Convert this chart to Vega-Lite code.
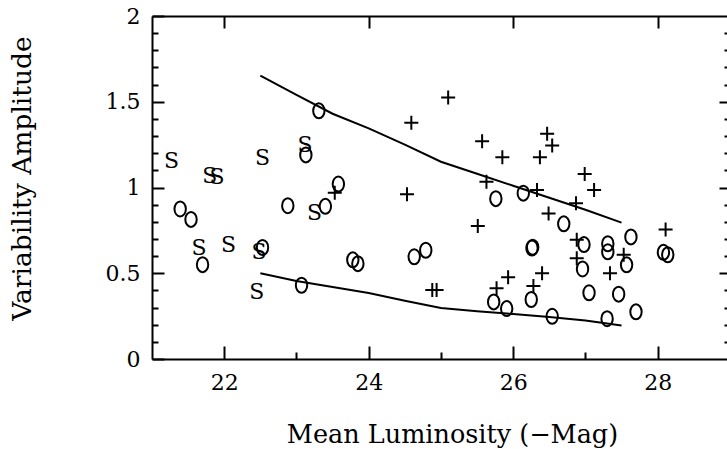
{
  "$schema": "https://vega.github.io/schema/vega-lite/v6.json",
  "width": 575,
  "height": 343,
  "autosize": {"type": "none"},
  "padding": {"left": 152, "top": 16, "right": 0, "bottom": 90},
  "background": "white",
  "config": {"view": {"stroke": null}, "font": "DejaVu Serif",
    "axis": {"grid": false, "domain": false, "domainColor": "black", "domainWidth": 2, "ticks": true, "tickColor": "black", "tickWidth": 2, "tickOpacity": 1, "labelColor": "black", "titleColor": "black", "labelFont": "DejaVu Serif", "titleFont": "DejaVu Serif", "titleFontWeight": "normal", "labelFlush": false}},
  "datasets": {
    "pts": [
      {"kind": "S", "lum": 21.27, "amp": 1.153},
      {"kind": "S", "lum": 21.80, "amp": 1.068},
      {"kind": "S", "lum": 21.90, "amp": 1.062},
      {"kind": "S", "lum": 22.53, "amp": 1.171},
      {"kind": "S", "lum": 23.12, "amp": 1.245},
      {"kind": "S", "lum": 23.25, "amp": 0.853},
      {"kind": "S", "lum": 21.65, "amp": 0.648},
      {"kind": "S", "lum": 22.06, "amp": 0.664},
      {"kind": "S", "lum": 22.48, "amp": 0.622},
      {"kind": "S", "lum": 22.45, "amp": 0.392},
      {"kind": "O", "lum": 23.31, "amp": 1.447},
      {"kind": "O", "lum": 23.13, "amp": 1.19},
      {"kind": "O", "lum": 21.39, "amp": 0.875},
      {"kind": "O", "lum": 21.54, "amp": 0.814},
      {"kind": "O", "lum": 22.88, "amp": 0.894},
      {"kind": "O", "lum": 23.40, "amp": 0.89},
      {"kind": "O", "lum": 23.58, "amp": 1.02},
      {"kind": "O", "lum": 21.70, "amp": 0.55},
      {"kind": "O", "lum": 22.53, "amp": 0.65},
      {"kind": "O", "lum": 23.07, "amp": 0.43},
      {"kind": "O", "lum": 23.78, "amp": 0.578},
      {"kind": "O", "lum": 23.85, "amp": 0.556},
      {"kind": "O", "lum": 24.63, "amp": 0.596},
      {"kind": "O", "lum": 24.79, "amp": 0.634},
      {"kind": "O", "lum": 25.76, "amp": 0.935},
      {"kind": "O", "lum": 26.14, "amp": 0.967},
      {"kind": "O", "lum": 26.70, "amp": 0.788},
      {"kind": "O", "lum": 27.63, "amp": 0.712},
      {"kind": "O", "lum": 26.26, "amp": 0.647},
      {"kind": "O", "lum": 26.27, "amp": 0.652},
      {"kind": "O", "lum": 26.98, "amp": 0.667},
      {"kind": "O", "lum": 27.31, "amp": 0.672},
      {"kind": "O", "lum": 27.31, "amp": 0.625},
      {"kind": "O", "lum": 27.57, "amp": 0.549},
      {"kind": "O", "lum": 26.96, "amp": 0.525},
      {"kind": "O", "lum": 28.08, "amp": 0.622},
      {"kind": "O", "lum": 28.14, "amp": 0.608},
      {"kind": "O", "lum": 27.05, "amp": 0.386},
      {"kind": "O", "lum": 27.46, "amp": 0.378},
      {"kind": "O", "lum": 27.70, "amp": 0.275},
      {"kind": "O", "lum": 25.73, "amp": 0.333},
      {"kind": "O", "lum": 25.91, "amp": 0.294},
      {"kind": "O", "lum": 26.25, "amp": 0.347},
      {"kind": "O", "lum": 26.54, "amp": 0.249},
      {"kind": "O", "lum": 27.30, "amp": 0.235},
      {"kind": "P", "lum": 23.53, "amp": 0.97},
      {"kind": "P", "lum": 24.59, "amp": 1.378},
      {"kind": "P", "lum": 25.10, "amp": 1.525},
      {"kind": "P", "lum": 24.53, "amp": 0.961},
      {"kind": "P", "lum": 24.88, "amp": 0.402},
      {"kind": "P", "lum": 24.94, "amp": 0.402},
      {"kind": "P", "lum": 25.57, "amp": 1.269},
      {"kind": "P", "lum": 25.85, "amp": 1.176},
      {"kind": "P", "lum": 26.47, "amp": 1.314},
      {"kind": "P", "lum": 26.54, "amp": 1.245},
      {"kind": "P", "lum": 26.37, "amp": 1.176},
      {"kind": "P", "lum": 25.63, "amp": 1.033},
      {"kind": "P", "lum": 26.33, "amp": 0.986},
      {"kind": "P", "lum": 26.99, "amp": 1.078},
      {"kind": "P", "lum": 27.12, "amp": 0.986},
      {"kind": "P", "lum": 26.87, "amp": 0.908},
      {"kind": "P", "lum": 26.49, "amp": 0.849},
      {"kind": "P", "lum": 25.51, "amp": 0.775},
      {"kind": "P", "lum": 28.11, "amp": 0.755},
      {"kind": "P", "lum": 26.88, "amp": 0.696},
      {"kind": "P", "lum": 26.88, "amp": 0.588},
      {"kind": "P", "lum": 27.53, "amp": 0.608},
      {"kind": "P", "lum": 27.34, "amp": 0.50},
      {"kind": "P", "lum": 25.93, "amp": 0.476},
      {"kind": "P", "lum": 26.40, "amp": 0.50},
      {"kind": "P", "lum": 25.77, "amp": 0.412},
      {"kind": "P", "lum": 26.28, "amp": 0.425}
    ],
    "curves": [
      {"curve": "upper", "lum": 22.5, "amp": 1.653},
      {"curve": "upper", "lum": 23.0, "amp": 1.54},
      {"curve": "upper", "lum": 23.5, "amp": 1.43},
      {"curve": "upper", "lum": 24.0, "amp": 1.345},
      {"curve": "upper", "lum": 24.5, "amp": 1.25},
      {"curve": "upper", "lum": 25.0, "amp": 1.15},
      {"curve": "upper", "lum": 25.5, "amp": 1.08},
      {"curve": "upper", "lum": 26.0, "amp": 1.01},
      {"curve": "upper", "lum": 26.5, "amp": 0.94},
      {"curve": "upper", "lum": 27.0, "amp": 0.87},
      {"curve": "upper", "lum": 27.5, "amp": 0.795},
      {"curve": "lower", "lum": 22.5, "amp": 0.50},
      {"curve": "lower", "lum": 23.0, "amp": 0.455},
      {"curve": "lower", "lum": 23.5, "amp": 0.42},
      {"curve": "lower", "lum": 24.0, "amp": 0.385},
      {"curve": "lower", "lum": 24.5, "amp": 0.34},
      {"curve": "lower", "lum": 25.0, "amp": 0.298},
      {"curve": "lower", "lum": 25.5, "amp": 0.278},
      {"curve": "lower", "lum": 26.0, "amp": 0.262},
      {"curve": "lower", "lum": 26.5, "amp": 0.245},
      {"curve": "lower", "lum": 27.0, "amp": 0.225},
      {"curve": "lower", "lum": 27.5, "amp": 0.195}
    ]
  },
  "resolve": {"axis": {"x": "independent", "y": "independent"}},
  "layer": [
    {
      "data": {"name": "curves"},
      "transform": [{"filter": "datum.curve === 'upper'"}],
      "mark": {"type": "line", "color": "black", "strokeWidth": 2},
      "encoding": {
        "x": {"field": "lum", "type": "quantitative", "scale": {"domain": [21, 28.96], "nice": false, "zero": false},
          "axis": {"orient": "bottom", "domain": true, "values": [22, 24, 26, 28], "tickSize": -13, "labelPadding": 26, "labelFontSize": 22,
            "title": "Mean Luminosity (−Mag)", "titleFontSize": 25.5, "titleX": 300, "titleY": 83, "titleBaseline": "alphabetic"}},
        "y": {"field": "amp", "type": "quantitative", "scale": {"domain": [0, 2], "nice": false, "zero": false},
          "axis": {"orient": "left", "domain": true, "values": [0, 0.5, 1, 1.5, 2], "format": "~g", "tickSize": -12, "labelPadding": 24, "labelFontSize": 22,
            "title": "Variability Amplitude", "titleFontSize": 26.5, "titleX": -130, "titleY": 162, "titleBaseline": "middle"}}
      }
    },
    {
      "data": {"name": "curves"},
      "transform": [{"filter": "datum.curve === 'lower'"}],
      "mark": {"type": "line", "color": "black", "strokeWidth": 2},
      "encoding": {
        "x": {"field": "lum", "type": "quantitative", "scale": {"domain": [21, 28.96], "nice": false, "zero": false},
          "axis": {"orient": "bottom", "values": [23, 25, 27], "tickSize": -7, "labels": false, "title": null}},
        "y": {"field": "amp", "type": "quantitative", "scale": {"domain": [0, 2], "nice": false, "zero": false},
          "axis": {"orient": "left", "values": [0.1, 0.2, 0.3, 0.4, 0.6, 0.7, 0.8, 0.9, 1.1, 1.2, 1.3, 1.4, 1.6, 1.7, 1.8, 1.9], "tickSize": -6, "labels": false, "title": null}}
      }
    },
    {
      "data": {"name": "pts"},
      "transform": [{"filter": "datum.kind === 'S'"}],
      "mark": {"type": "text", "color": "black", "fontSize": 22, "font": "DejaVu Serif", "baseline": "middle", "align": "center"},
      "encoding": {
        "x": {"field": "lum", "type": "quantitative", "scale": {"domain": [21, 28.96], "nice": false, "zero": false},
          "axis": {"orient": "top", "domain": true, "values": [22, 24, 26, 28], "tickSize": -12, "labels": false, "title": null}},
        "y": {"field": "amp", "type": "quantitative", "scale": {"domain": [0, 2], "nice": false, "zero": false},
          "axis": {"orient": "right", "values": [0.5, 1, 1.5], "tickSize": -8, "labels": false, "title": null}},
        "text": {"field": "kind"}
      }
    },
    {
      "data": {"name": "pts"},
      "transform": [{"filter": "datum.kind === 'O'"}],
      "mark": {"type": "point", "shape": "M0,-1A0.76,1 0 1,1 0,1A0.76,1 0 1,1 0,-1Z", "size": 225, "filled": false, "stroke": "black", "strokeWidth": 2, "opacity": 1},
      "encoding": {
        "x": {"field": "lum", "type": "quantitative", "scale": {"domain": [21, 28.96], "nice": false, "zero": false}, "axis": null},
        "y": {"field": "amp", "type": "quantitative", "scale": {"domain": [0, 2], "nice": false, "zero": false},
          "axis": {"orient": "right", "values": [0.1, 0.2, 0.3, 0.4, 0.6, 0.7, 0.8, 0.9, 1.1, 1.2, 1.3, 1.4, 1.6, 1.7, 1.8, 1.9], "tickSize": -3, "labels": false, "title": null}}
      }
    },
    {
      "data": {"name": "pts"},
      "transform": [{"filter": "datum.kind === 'P'"}],
      "mark": {"type": "point", "shape": "M-1,0H1M0,-1V1", "size": 196, "filled": false, "stroke": "black", "strokeWidth": 2, "opacity": 1},
      "encoding": {
        "x": {"field": "lum", "type": "quantitative", "scale": {"domain": [21, 28.96], "nice": false, "zero": false}, "axis": null},
        "y": {"field": "amp", "type": "quantitative", "scale": {"domain": [0, 2], "nice": false, "zero": false}, "axis": null}
      }
    }
  ]
}
